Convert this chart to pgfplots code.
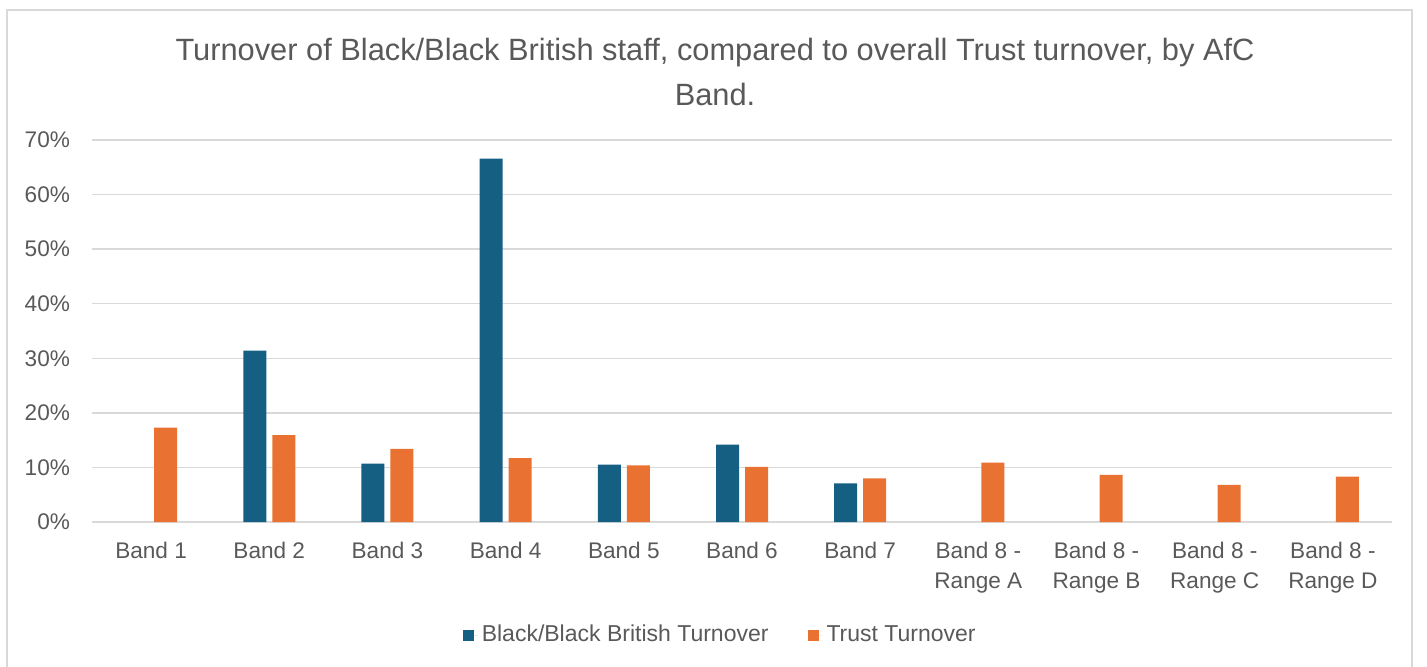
\documentclass[border=0pt]{standalone}
\usepackage{pgfplots}
\pgfplotsset{compat=1.18}
\usepackage{fontspec}
\setmainfont{Liberation Sans}
\definecolor{bbblue}{HTML}{156082}
\definecolor{trorange}{HTML}{E97132}
\definecolor{txtgray}{HTML}{595959}
\definecolor{gridgray}{HTML}{D9D9D9}
\begin{document}
\begin{tikzpicture}[x=1pt,y=1pt]
\path[use as bounding box] (0,0) rectangle (713.5,333);
\draw[gridgray, line width=0.75pt] (3.5,-2) rectangle (706,328);
\begin{axis}[
  at={(46pt,72pt)}, anchor=south west,
  scale only axis, width=650pt, height=191pt,
  ybar, bar width=11.5pt,
  xmin=-0.5, xmax=10.5, ymin=0, ymax=70,
  xtick={0,...,10},
  xticklabels={Band 1, Band 2, Band 3, Band 4, Band 5, Band 6, Band 7,
    {Band 8 -\\Range A}, {Band 8 -\\Range B}, {Band 8 -\\Range C}, {Band 8 -\\Range D}},
  ytick={0,10,...,70},
  yticklabel={\pgfmathprintnumber{\tick}\%},
  /pgf/number format/assume math mode=true,
  ymajorgrids, grid style={gridgray, line width=0.75pt},
  major tick length=0pt,
  axis line style={draw=none},
  tick label style={text=txtgray, font=\fontsize{11.3}{15}\selectfont},
  xticklabel style={align=center, yshift=-6.7pt},
  yticklabel style={xshift=-7.5pt},
  legend style={at={(0.484,-0.296)}, anchor=center, draw=none, fill=none,
    legend columns=2, font=\fontsize{11.5}{15}\selectfont, text=txtgray,
    /tikz/every even column/.append style={column sep=17.5pt}},
  legend image code/.code={\fill[#1] (0pt,-2.75pt) rectangle (5.5pt,2.75pt); \path (0pt,0pt) -- (7.5pt,0pt);},
]
\addplot[fill=bbblue, draw=none, bar shift=-7.25pt] coordinates {
  (1,31.4) (2,10.7) (3,66.6) (4,10.5) (5,14.2) (6,7.1)
};
\addlegendentry{Black/Black British Turnover}
\addplot[fill=trorange, draw=none, bar shift=7.25pt] coordinates {
  (0,17.3) (1,15.9) (2,13.4) (3,11.7) (4,10.4) (5,10.1) (6,8.0)
  (7,10.9) (8,8.65) (9,6.8) (10,8.3)
};
\addlegendentry{Trust Turnover}
\end{axis}
\node[align=center, text=txtgray, font=\fontsize{15.4}{22.5}\selectfont, anchor=north] at (357.5,317.5)
  {Turnover of Black/Black British staff, compared to overall Trust turnover, by AfC\\Band.};
\end{tikzpicture}
\end{document}
